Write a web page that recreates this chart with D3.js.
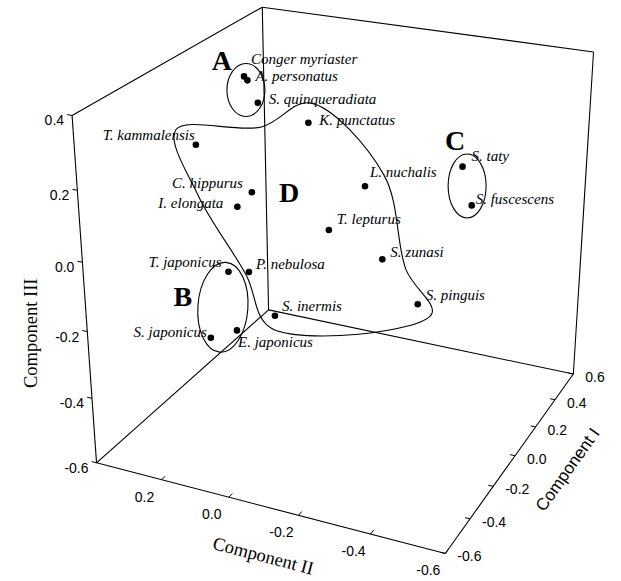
<!DOCTYPE html>
<html>
<head>
<meta charset="utf-8">
<script src="https://cdn.jsdelivr.net/npm/d3@7"></script>
<style>
  html, body { margin: 0; padding: 0; background: #fff; }
  svg { display: block; }
</style>
</head>
<body>
<svg id="chart" width="621" height="581"></svg>
<script>
// Species scores on the first three principal components
const species = [
  "Conger myriaster", "A. personatus", "S. quinqueradiata", "K. punctatus",
  "T. kammalensis", "C. hippurus", "I. elongata", "L. nuchalis",
  "S. taty", "S. fuscescens", "T. lepturus", "S. zunasi",
  "S. pinguis", "S. inermis", "P. nebulosa", "T. japonicus",
  "S. japonicus", "E. japonicus"
];
const compI   = [0.10, 0.10, 0.10, 0.20, -0.10, 0.00, -0.10, 0.20, 0.30, 0.30, 0.00, 0.10, 0.00, -0.20, -0.10, -0.30, -0.30, -0.30];
const compII  = [0.24, 0.23, 0.20, 0.09, 0.30, 0.18, 0.18, -0.08, -0.33, -0.36, -0.05, -0.17, -0.31, 0.03, 0.15, 0.12, 0.18, 0.10];
const compIII = [0.34, 0.33, 0.27, 0.20, 0.19, 0.04, 0.03, 0.04, 0.11, 0.00, -0.03, -0.13, -0.20, -0.23, -0.16, -0.08, -0.29, -0.25];
const groupOf = ["A", "A", "A", "D", "D", "D", "D", "D", "C", "C", "D", "D", "D", "D", "D", "B", "B", "B"];

// Axis ranges and tick labels
const domainI = [-0.6, 0.6];
const domainII = [0.4, -0.6];
const domainIII = [-0.6, 0.4];
const ticksI = [-0.6, -0.4, -0.2, 0.0, 0.2, 0.4, 0.6];
const ticksII = [0.2, 0.0, -0.2, -0.4, -0.6];
const ticksIII = [0.4, 0.2, 0.0, -0.2, -0.4, -0.6];

// ---- layout ----
// where the box corners and a few ticks sit on the page; a perspective camera is fitted to them
const frameRefs = [
  [-0.6,  0.4, -0.6,  97, 462, 3],
  [-0.6, -0.6, -0.6, 445, 553, 3],
  [ 0.6, -0.6, -0.6, 573, 373, 3],
  [ 0.6,  0.4, -0.6, 268, 310, 3],
  [-0.6,  0.4,  0.4,  72, 115, 3],
  [ 0.6,  0.4,  0.4, 263,   7, 3],
  [ 0.6, -0.6,  0.4, 593,  52, 3],
  [-0.6,  0.4,  0.2,  77, 190, 1],
  [-0.6,  0.4,  0.0,  82, 264, 1],
  [-0.6,  0.4, -0.2,  87, 333, 1],
  [-0.6,  0.4, -0.4,  92, 400, 1],
  [-0.6,  0.2, -0.6, 161, 479, 1],
  [-0.6,  0.0, -0.6, 230, 497, 1],
  [-0.6, -0.2, -0.6, 297, 516, 1],
  [-0.6, -0.4, -0.6, 369, 534, 1],
  [-0.4, -0.6, -0.6, 471, 518, 1],
  [-0.2, -0.6, -0.6, 494, 487, 1],
  [ 0.0, -0.6, -0.6, 517, 457, 1],
  [ 0.2, -0.6, -0.6, 537, 428, 1],
  [ 0.4, -0.6, -0.6, 555, 402, 1]
];

// label placement per species: anchor and offset from the dot
const labelPlace = [
  ["start", 7, -12], ["start", 8, 1], ["start", 11, 1], ["start", 11, 2],
  ["end", -1, -5], ["end", -9, -4], ["end", -14, 1], ["start", 5, -9],
  ["start", 9, -6], ["start", 4, -1], ["start", 8, -6], ["start", 8, -2],
  ["start", 8, -4], ["start", 7, -5], ["start", 7, -3], ["end", -7, -5],
  ["end", -4, -1], ["start", 1, 17]
];

// group rings: ellipse size, nudge, tilt and letter offset from the ring centre
const rings = [
  { id: "A", rx: 19, ry: 26.5, dx: -5, dy: 0.5, rot: 0, lx: -24, ly: -30 },
  { id: "B", rx: 25, ry: 45, dx: -1, dy: 2.5, rot: 4, lx: -40, ly: -11 },
  { id: "C", rx: 19, ry: 32, dx: 0, dy: 0, rot: 0, lx: -12, ly: -46 }
];
// outline of group D runs round these members (or between two of them), held off by a gap
const outlineD = [
  { from: "T. kammalensis", gap: 25 },
  { from: "T. kammalensis", to: "K. punctatus", t: 0.6, gap: 5 },
  { from: "K. punctatus", gap: 20 },
  { from: "L. nuchalis", gap: 22 },
  { from: "S. zunasi", gap: 26 },
  { from: "S. pinguis", gap: 17 },
  { from: "S. inermis", gap: 13 },
  { from: "P. nebulosa", gap: 4 },
  { from: "I. elongata", gap: 40 }
];
const letterD = { lx: -12, ly: -31 };

const svg = d3.select("#chart");
const serif = "'Liberation Serif', 'Times New Roman', serif";
const sans = "'Liberation Sans', Arial, sans-serif";

const sI = d3.scaleLinear().domain(domainI).range([0, 1]);
const sII = d3.scaleLinear().domain(domainII).range([0, 1]);
const sIII = d3.scaleLinear().domain(domainIII).range([0, 1]);

// least-squares fit of a 3x4 projective camera (last entry fixed to 1)
function fitCamera(refs) {
  const n = 11;
  const M = d3.range(n).map(() => new Array(n + 1).fill(0));
  const addRow = (r, rhs, wt) => {
    for (let i = 0; i < n; i++) {
      for (let j = 0; j < n; j++) M[i][j] += wt * r[i] * r[j];
      M[i][n] += wt * r[i] * rhs;
    }
  };
  refs.forEach(([a, b, c, x, y, wt]) => {
    const u = sI(a), v = sII(b), w = sIII(c);
    addRow([u, v, w, 1, 0, 0, 0, 0, -x * u, -x * v, -x * w], x, wt);
    addRow([0, 0, 0, 0, u, v, w, 1, -y * u, -y * v, -y * w], y, wt);
  });
  for (let c = 0; c < n; c++) {
    let p = c;
    for (let r = c + 1; r < n; r++) if (Math.abs(M[r][c]) > Math.abs(M[p][c])) p = r;
    [M[c], M[p]] = [M[p], M[c]];
    for (let r = 0; r < n; r++) {
      if (r === c) continue;
      const f = M[r][c] / M[c][c];
      for (let j = c; j <= n; j++) M[r][j] -= f * M[c][j];
    }
  }
  const P = M.map((row, i) => row[n] / row[i]);
  return (u, v, w) => {
    const d = P[8] * u + P[9] * v + P[10] * w + 1;
    return [(P[0] * u + P[1] * v + P[2] * w + P[3]) / d,
            (P[4] * u + P[5] * v + P[6] * w + P[7]) / d];
  };
}
const camera = fitCamera(frameRefs);
const project = (a, b, c) => camera(sI(a), sII(b), sIII(c));
const unit = (p, q) => { const dx = q[0] - p[0], dy = q[1] - p[1], l = Math.hypot(dx, dy); return [dx / l, dy / l]; };

// ---- box: floor plus the two back walls ----
const [i0, i1] = domainI, [j0, j1] = domainII, [k0, k1] = domainIII;
const edges = [
  [[i0, j0, k0], [i0, j1, k0]], [[i0, j1, k0], [i1, j1, k0]],
  [[i1, j1, k0], [i1, j0, k0]], [[i1, j0, k0], [i0, j0, k0]],
  [[i0, j0, k0], [i0, j0, k1]], [[i0, j0, k1], [i1, j0, k1]],
  [[i1, j0, k0], [i1, j0, k1]], [[i1, j0, k1], [i1, j1, k1]],
  [[i1, j1, k0], [i1, j1, k1]]
];
const line = d3.line();
const frame = svg.append("g").attr("fill", "none").attr("stroke", "#000").attr("stroke-width", 1.1);
edges.forEach(([p, q]) => frame.append("path").attr("d", line([project(...p), project(...q)])));

// ---- ticks and tick labels ----
const tickLen = 5;
const fmt = v => d3.format(".1f")(v).replace("\u2212", "-");
const tickG = svg.append("g");
function drawTicks(values, at, toward, labelPos) {
  values.forEach(t => {
    const p = project(...at(t));
    const dir = unit(p, project(...toward(t)));
    tickG.append("path").attr("fill", "none").attr("stroke", "#000").attr("stroke-width", 1)
      .attr("d", line([p, [p[0] + dir[0] * tickLen, p[1] + dir[1] * tickLen]]));
    const [x, y, anchor] = labelPos(p);
    tickG.append("text").attr("x", x).attr("y", y).attr("text-anchor", anchor)
      .attr("font-family", sans).attr("font-size", 14).attr("fill", "#000")
      .text(fmt(t));
  });
}
// Component III on the left wall edge
drawTicks(ticksIII, t => [i0, j0, t], t => [i0, j0 + 0.1, t], p => [p[0] - 8, p[1] + 10, "end"]);
// Component II along the front of the floor
drawTicks(ticksII, t => [i0, t, k0], t => [i0 + 0.1, t, k0], p => [p[0] - 17, p[1] + 22, "middle"]);
// Component I along the right of the floor
drawTicks(ticksI, t => [t, j1, k0], t => [t, j1 + 0.1, k0], p => [p[0] + 12, p[1] + 8, "start"]);

// ---- axis titles ----
const titles = svg.append("g").attr("fill", "#000");
{
  const a = project(i0, j0, -0.1);
  titles.append("text").attr("transform", `translate(${a[0] - 48},${a[1] + 36}) rotate(-90)`)
    .attr("text-anchor", "middle").attr("font-family", serif).attr("font-size", 18.5)
    .text("Component III");
  const b0 = project(i0, j0, k0), b1 = project(i0, j1, k0);
  const angB = Math.atan2(b1[1] - b0[1], b1[0] - b0[0]) * 180 / Math.PI;
  const bm = project(i0, -0.15, k0);
  titles.append("text").attr("transform", `translate(${bm[0] - 19},${bm[1] + 51}) rotate(${angB})`)
    .attr("text-anchor", "middle").attr("font-family", serif).attr("font-size", 18.5)
    .text("Component II");
  const c0 = project(i0, j1, k0), c1 = project(i1, j1, k0);
  const angC = Math.atan2(c1[1] - c0[1], c1[0] - c0[0]) * 180 / Math.PI;
  const cm = project(-0.1, j1, k0);
  titles.append("text").attr("transform", `translate(${cm[0] + 68},${cm[1] + 2}) rotate(${angC})`)
    .attr("text-anchor", "middle").attr("font-family", sans).attr("font-size", 17)
    .text("Component I");
}

// ---- species positions ----
const pts = species.map((name, i) => {
  const [x, y] = project(compI[i], compII[i], compIII[i]);
  return { name, x, y, group: groupOf[i], i };
});
const byName = new Map(pts.map(d => [d.name, d]));

const annot = svg.append("g").attr("fill", "none").attr("stroke", "#000").attr("stroke-width", 1.1);
const letters = svg.append("g").attr("fill", "#000").attr("font-family", serif)
  .attr("font-weight", "bold").attr("font-size", 28).attr("text-anchor", "middle");

// rings round groups A, B and C
rings.forEach(r => {
  const members = pts.filter(d => d.group === r.id);
  const cx = (d3.min(members, d => d.x) + d3.max(members, d => d.x)) / 2 + r.dx;
  const cy = (d3.min(members, d => d.y) + d3.max(members, d => d.y)) / 2 + r.dy;
  annot.append("ellipse").attr("cx", 0).attr("cy", 0).attr("rx", r.rx).attr("ry", r.ry)
    .attr("transform", `translate(${cx},${cy}) rotate(${r.rot})`);
  letters.append("text").attr("x", cx + r.lx).attr("y", cy + r.ly + 9.5).text(r.id);
});

// outline round group D
{
  const members = pts.filter(d => d.group === "D");
  const mx = d3.mean(members, d => d.x), my = d3.mean(members, d => d.y);
  const ring = outlineD.map(o => {
    const a = byName.get(o.from);
    const b = o.to ? byName.get(o.to) : a;
    const t = o.to ? o.t : 0;
    const px = a.x + (b.x - a.x) * t, py = a.y + (b.y - a.y) * t;
    const [ux, uy] = unit([mx, my], [px, py]);
    return [px + ux * o.gap, py + uy * o.gap];
  });
  annot.append("path").attr("d", d3.line().curve(d3.curveCatmullRomClosed.alpha(0.5))(ring));
  letters.append("text").attr("x", mx + letterD.lx).attr("y", my + letterD.ly + 9.5).text("D");
}

// ---- dots and names ----
svg.append("g").selectAll("circle").data(pts).join("circle")
  .attr("cx", d => d.x).attr("cy", d => d.y).attr("r", 3.3).attr("fill", "#000");

svg.append("g").attr("font-family", serif).attr("font-style", "italic").attr("font-size", 15).attr("fill", "#000")
  .selectAll("text").data(pts).join("text")
  .attr("x", d => d.x + labelPlace[d.i][1])
  .attr("y", d => d.y + labelPlace[d.i][2])
  .attr("text-anchor", d => labelPlace[d.i][0])
  .text(d => d.name);
</script>
</body>
</html>
